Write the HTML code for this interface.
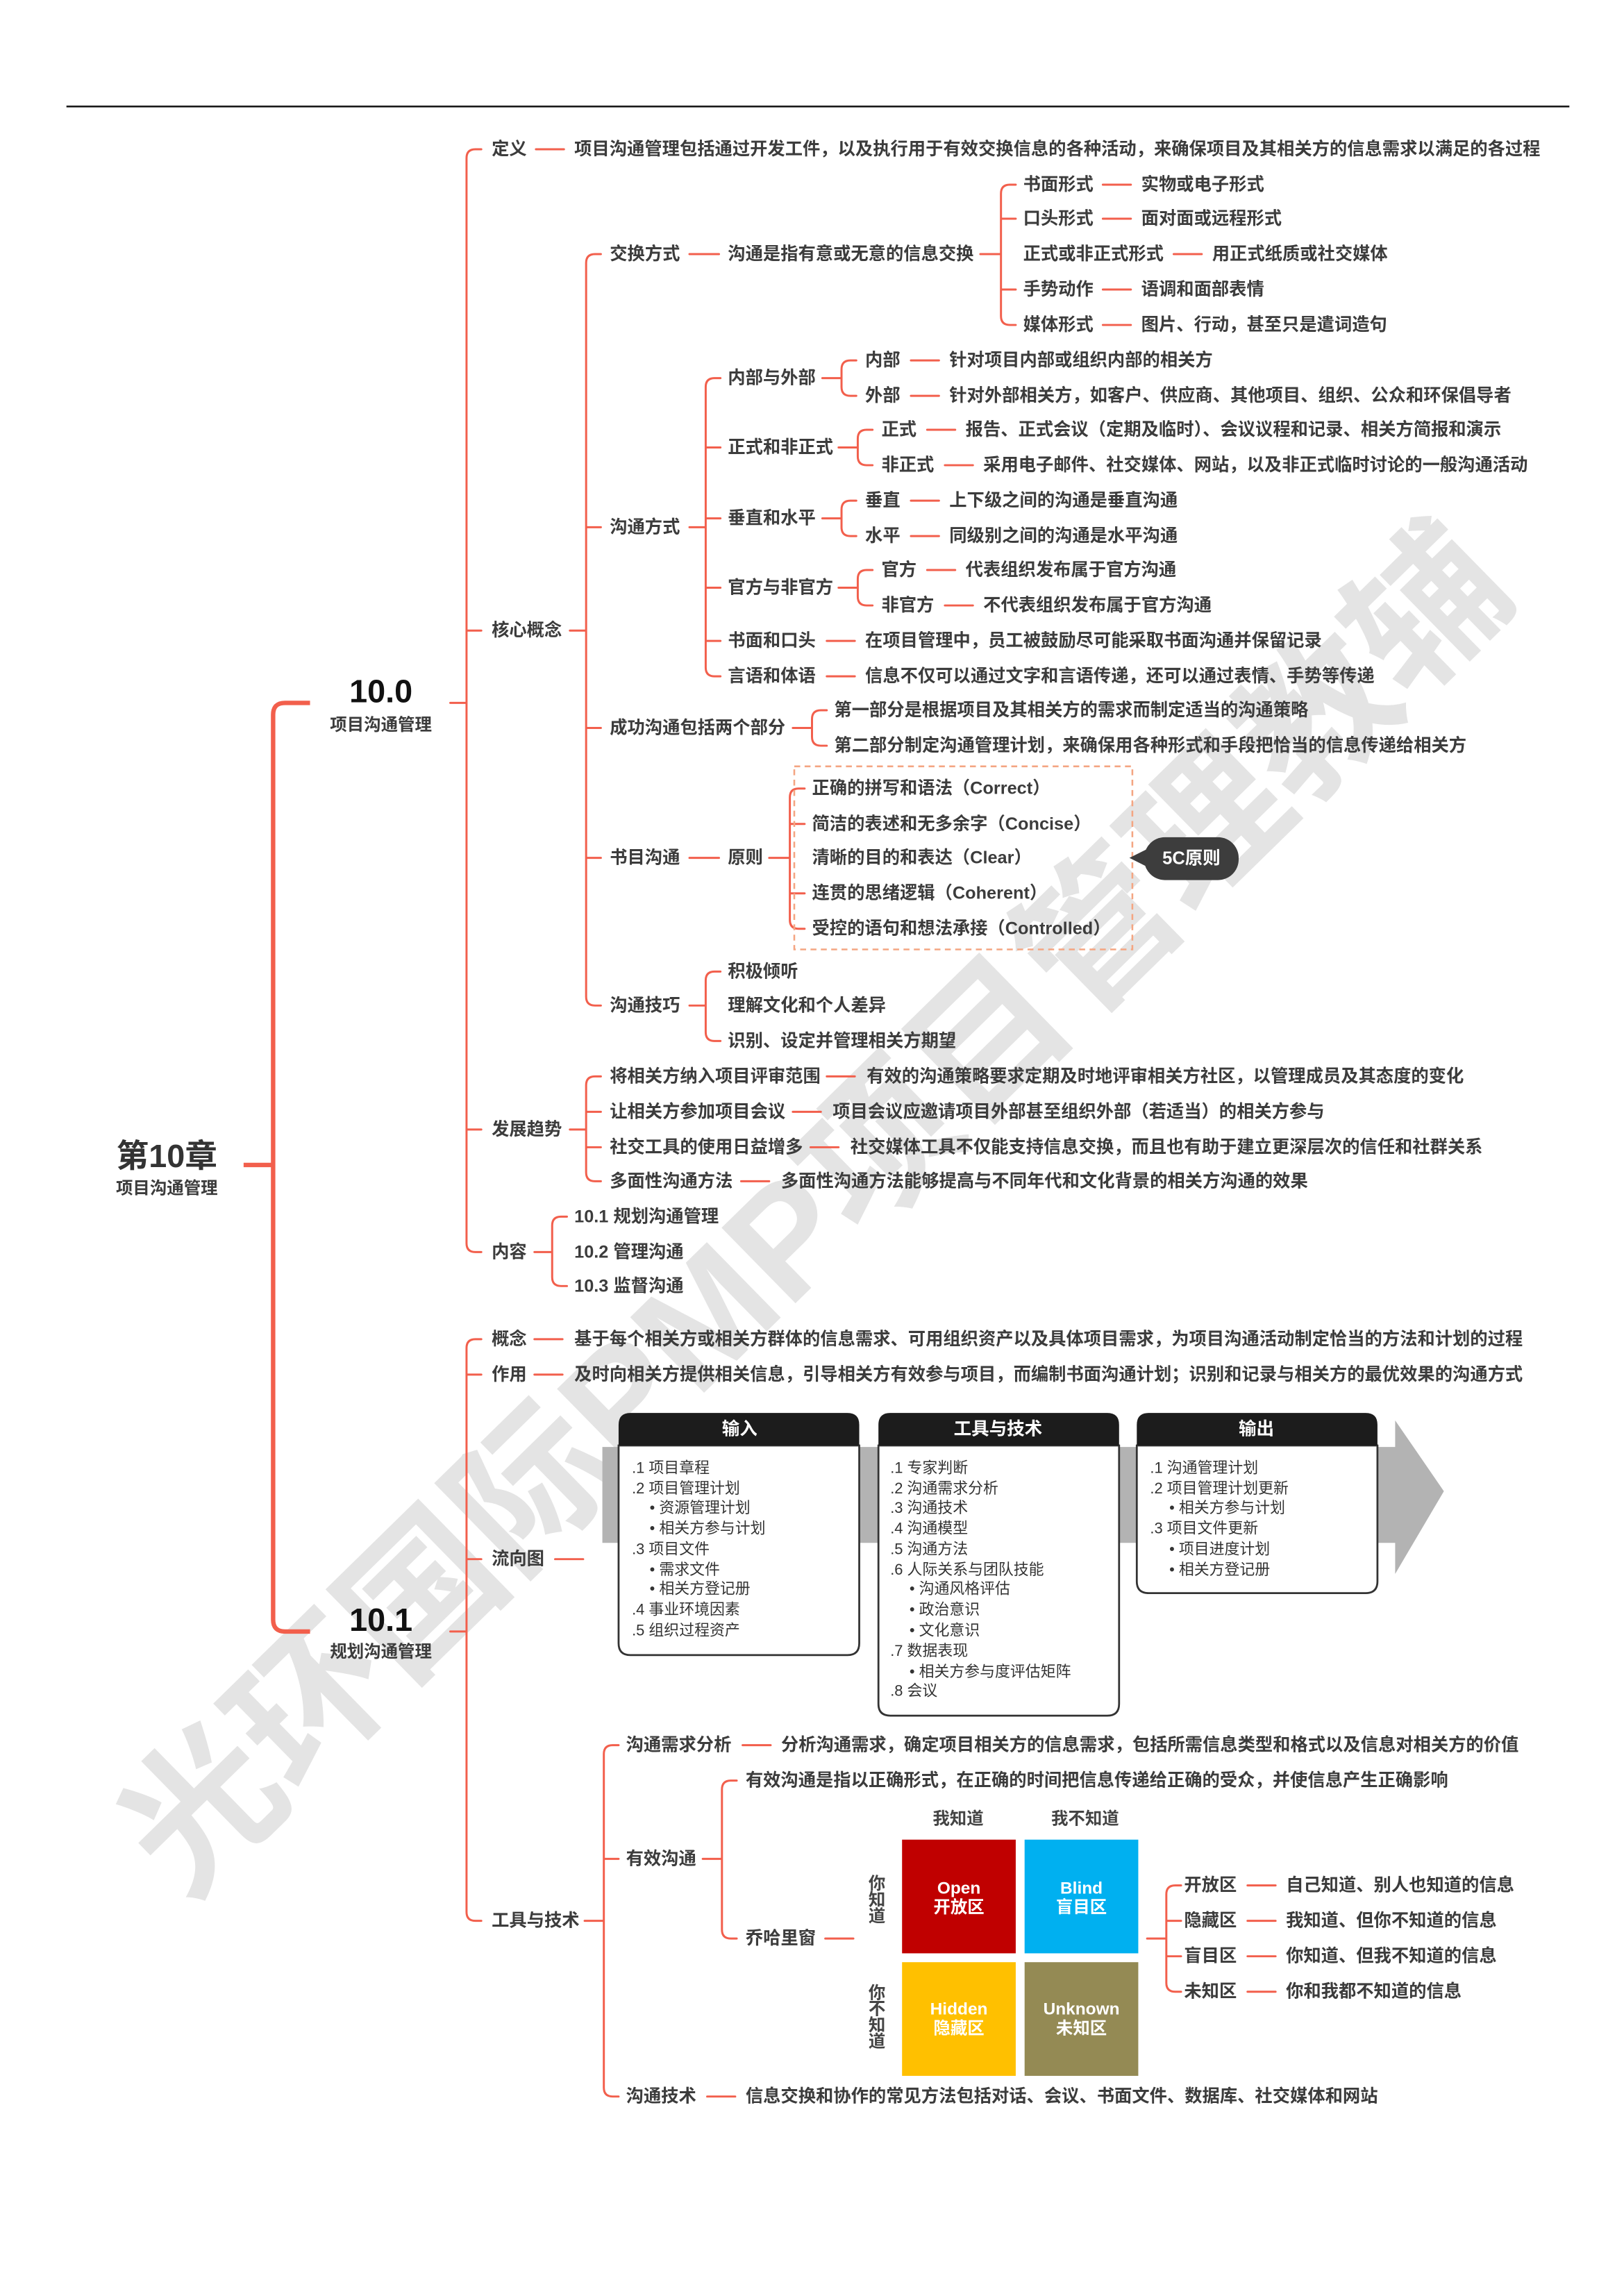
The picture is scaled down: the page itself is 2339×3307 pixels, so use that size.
<!DOCTYPE html>
<html><head><meta charset="utf-8">
<style>
html,body{margin:0;padding:0;background:#fff;}
svg{display:block;}
text{font-family:"Liberation Sans","Noto Sans CJK SC",sans-serif;dominant-baseline:central;}
.t{font-size:11.9px;font-weight:bold;fill:#3c3c3c;}
.s{font-size:10.3px;fill:#333;}
.l{fill:none;stroke:#f25f4c;stroke-width:1.4;stroke-linecap:round;}
</style></head><body>
<svg width="2339" height="3307" viewBox="0 0 1100 1555" xmlns="http://www.w3.org/2000/svg">
<rect width="1100" height="1555" fill="#fff"/>
<text x="100" y="1262" transform="rotate(-44.4 100 1262)" style="font-size:104px;font-weight:bold;fill:#e4e4e4;">光环国际PMP项目管理教辅</text>

<line x1="45" y1="72" x2="1063" y2="72" stroke="#111" stroke-width="1.2"/>

<text x="113" y="783" text-anchor="middle" style="font-size:22px;font-weight:bold;fill:#333">第10章</text>
<text x="113" y="805" text-anchor="middle" class="t" style="font-size:11.5px">项目沟通管理</text>
<path d="M165 789 H185 M210 476 H193 Q185 476 185 484 V1097 Q185 1105 193 1105 H210" fill="none" stroke="#f25f4c" stroke-width="3"/>

<text x="258" y="468" text-anchor="middle" style="font-size:22px;font-weight:bold;fill:#111">10.0</text>
<text x="258" y="491" text-anchor="middle" class="t" style="font-size:11.5px">项目沟通管理</text>
<text x="258" y="1097" text-anchor="middle" style="font-size:22px;font-weight:bold;fill:#111">10.1</text>
<text x="258" y="1119" text-anchor="middle" class="t" style="font-size:11.5px">规划沟通管理</text>

<g class="l">
<path d="M326 101 H322 Q316 101 316 107 V842 Q316 848 322 848 H326 M316 427 H326 M316 765 H326 M305 476 H316"/>
<path d="M363 101 H382"/>
<path d="M386 427 H397 M407 172 H403 Q397 172 397 178 V675 Q397 681 403 681 H407 M397 357 H407 M397 493 H407 M397 581 H407"/>
<path d="M467 172 H487 M664 172 H678 M688 125 H684 Q678 125 678 131 V214 Q678 220 684 220 H688 M678 148 H688 M678 196 H688"/>
<path d="M747 125 H766 M747 148 H766 M795 172 H814 M747 196 H766 M747 220 H766"/>
<path d="M467 357 H478 M488 256 H484 Q478 256 478 262 V452 Q478 458 484 458 H488 M478 303 H488 M478 351 H488 M478 398 H488 M478 434 H488"/>
<path d="M557 256 H570 M580 244 H576 Q570 244 570 250 V262 Q570 268 576 268 H580"/>
<path d="M568 303 H581 M591 291 H587 Q581 291 581 297 V309 Q581 315 587 315 H591"/>
<path d="M557 351 H570 M580 339 H576 Q570 339 570 345 V357 Q570 363 576 363 H580"/>
<path d="M568 398 H581 M591 386 H587 Q581 386 581 392 V404 Q581 410 587 410 H591"/>
<path d="M617 244 H636 M617 268 H636 M628 291 H647 M640 315 H659 M617 339 H636 M617 363 H636 M628 386 H647 M640 410 H659 M560 434 H579 M560 458 H579"/>
<path d="M537 493 H550 M560 481 H556 Q550 481 550 487 V499 Q550 505 556 505 H560"/>
<path d="M467 581 H487 M521 581 H535 M545 534 H541 Q535 534 535 540 V623 Q535 629 541 629 H545 M535 558 H545 M535 605 H545"/>
<path d="M467 681 H478 M488 658 H484 Q478 658 478 664 V699 Q478 705 484 705 H488"/>
<path d="M386 765 H397 M407 729 H403 Q397 729 397 735 V794 Q397 800 403 800 H407 M397 753 H407 M397 777 H407"/>
<path d="M560 729 H579 M537 753 H556 M549 777 H568 M502 800 H521"/>
<path d="M362 848 H374 M384 824 H380 Q374 824 374 830 V865 Q374 871 380 871 H384"/>
<path d="M326 907 H322 Q316 907 316 913 V1295 Q316 1301 322 1301 H326 M316 931 H326 M316 1056 H326 M305 1105 H316"/>
<path d="M362 907 H381 M362 931 H381 M376 1056 H395"/>
<path d="M396 1301 H409 M419 1182 H415 Q409 1182 409 1188 V1414 Q409 1420 415 1420 H419 M409 1259 H419"/>
<path d="M503 1182 H522 M479 1420 H498"/>
<path d="M476 1259 H489 M499 1206 H495 Q489 1206 489 1212 V1307 Q489 1313 495 1313 H499"/>
<path d="M559 1313 H578"/>
<path d="M777 1313 H790 M800 1277 H796 Q790 1277 790 1283 V1343 Q790 1349 796 1349 H800 M790 1301 H800 M790 1325 H800"/>
<path d="M845 1277 H864 M845 1301 H864 M845 1325 H864 M845 1349 H864"/>
</g>

<g class="t">
<text x="333" y="101">定义</text>
<text x="389" y="101">项目沟通管理包括通过开发工件，以及执行用于有效交换信息的各种活动，来确保项目及其相关方的信息需求以满足的各过程</text>
<text x="333" y="427">核心概念</text>
<text x="413" y="172">交换方式</text>
<text x="493" y="172">沟通是指有意或无意的信息交换</text>
<text x="693" y="125">书面形式</text><text x="773" y="125">实物或电子形式</text>
<text x="693" y="148">口头形式</text><text x="773" y="148">面对面或远程形式</text>
<text x="693" y="172">正式或非正式形式</text><text x="821" y="172">用正式纸质或社交媒体</text>
<text x="693" y="196">手势动作</text><text x="773" y="196">语调和面部表情</text>
<text x="693" y="220">媒体形式</text><text x="773" y="220">图片、行动，甚至只是遣词造句</text>
<text x="413" y="357">沟通方式</text>
<text x="493" y="256">内部与外部</text>
<text x="586" y="244">内部</text><text x="643" y="244">针对项目内部或组织内部的相关方</text>
<text x="586" y="268">外部</text><text x="643" y="268">针对外部相关方，如客户、供应商、其他项目、组织、公众和环保倡导者</text>
<text x="493" y="303">正式和非正式</text>
<text x="597" y="291">正式</text><text x="654" y="291">报告、正式会议（定期及临时）、会议议程和记录、相关方简报和演示</text>
<text x="597" y="315">非正式</text><text x="666" y="315">采用电子邮件、社交媒体、网站，以及非正式临时讨论的一般沟通活动</text>
<text x="493" y="351">垂直和水平</text>
<text x="586" y="339">垂直</text><text x="643" y="339">上下级之间的沟通是垂直沟通</text>
<text x="586" y="363">水平</text><text x="643" y="363">同级别之间的沟通是水平沟通</text>
<text x="493" y="398">官方与非官方</text>
<text x="597" y="386">官方</text><text x="654" y="386">代表组织发布属于官方沟通</text>
<text x="597" y="410">非官方</text><text x="666" y="410">不代表组织发布属于官方沟通</text>
<text x="493" y="434">书面和口头</text><text x="586" y="434">在项目管理中，员工被鼓励尽可能采取书面沟通并保留记录</text>
<text x="493" y="458">言语和体语</text><text x="586" y="458">信息不仅可以通过文字和言语传递，还可以通过表情、手势等传递</text>
<text x="413" y="493">成功沟通包括两个部分</text>
<text x="565" y="481">第一部分是根据项目及其相关方的需求而制定适当的沟通策略</text>
<text x="565" y="505">第二部分制定沟通管理计划，来确保用各种形式和手段把恰当的信息传递给相关方</text>
<text x="413" y="581">书目沟通</text>
<text x="493" y="581">原则</text>
<text x="550" y="534">正确的拼写和语法（Correct）</text>
<text x="550" y="558">简洁的表述和无多余字（Concise）</text>
<text x="550" y="581">清晰的目的和表达（Clear）</text>
<text x="550" y="605">连贯的思绪逻辑（Coherent）</text>
<text x="550" y="629">受控的语句和想法承接（Controlled）</text>
<text x="413" y="681">沟通技巧</text>
<text x="493" y="658">积极倾听</text>
<text x="493" y="681">理解文化和个人差异</text>
<text x="493" y="705">识别、设定并管理相关方期望</text>
<text x="333" y="765">发展趋势</text>
<text x="413" y="729">将相关方纳入项目评审范围</text><text x="587" y="729">有效的沟通策略要求定期及时地评审相关方社区，以管理成员及其态度的变化</text>
<text x="413" y="753">让相关方参加项目会议</text><text x="564" y="753">项目会议应邀请项目外部甚至组织外部（若适当）的相关方参与</text>
<text x="413" y="777">社交工具的使用日益增多</text><text x="576" y="777">社交媒体工具不仅能支持信息交换，而且也有助于建立更深层次的信任和社群关系</text>
<text x="413" y="800">多面性沟通方法</text><text x="529" y="800">多面性沟通方法能够提高与不同年代和文化背景的相关方沟通的效果</text>
<text x="333" y="848">内容</text>
<text x="389" y="824">10.1 规划沟通管理</text>
<text x="389" y="848">10.2 管理沟通</text>
<text x="389" y="871">10.3 监督沟通</text>
<text x="333" y="907">概念</text>
<text x="389" y="907">基于每个相关方或相关方群体的信息需求、可用组织资产以及具体项目需求，为项目沟通活动制定恰当的方法和计划的过程</text>
<text x="333" y="931">作用</text>
<text x="389" y="931">及时向相关方提供相关信息，引导相关方有效参与项目，而编制书面沟通计划；识别和记录与相关方的最优效果的沟通方式</text>
<text x="333" y="1056">流向图</text>
<text x="333" y="1301">工具与技术</text>
<text x="424" y="1182">沟通需求分析</text><text x="529" y="1182">分析沟通需求，确定项目相关方的信息需求，包括所需信息类型和格式以及信息对相关方的价值</text>
<text x="424" y="1259">有效沟通</text>
<text x="505" y="1206">有效沟通是指以正确形式，在正确的时间把信息传递给正确的受众，并使信息产生正确影响</text>
<text x="505" y="1313">乔哈里窗</text>
<text x="802" y="1277">开放区</text><text x="871" y="1277">自己知道、别人也知道的信息</text>
<text x="802" y="1301">隐藏区</text><text x="871" y="1301">我知道、但你不知道的信息</text>
<text x="802" y="1325">盲目区</text><text x="871" y="1325">你知道、但我不知道的信息</text>
<text x="802" y="1349">未知区</text><text x="871" y="1349">你和我都不知道的信息</text>
<text x="424" y="1420">沟通技术</text><text x="505" y="1420">信息交换和协作的常见方法包括对话、会议、书面文件、数据库、社交媒体和网站</text>
</g>

<rect x="538" y="519" width="229" height="124" fill="none" stroke="#f4a582" stroke-width="1.2" stroke-dasharray="4 3"/>
<path d="M765 581 L779 574 L779 588 Z" fill="#3d3d3d"/>
<rect x="775" y="567" width="64" height="29" rx="14" fill="#3d3d3d"/>
<text x="807" y="581.5" text-anchor="middle" style="font-size:12px;font-weight:bold;fill:#fff">5C原则</text>

<polygon points="408,980 945,980 945,962 978,1010 945,1066 945,1045 408,1045" fill="#b3b3b3"/>
<g stroke="#333" stroke-width="1.3">
<path d="M419 979 V1113 Q419 1121 427 1121 H574 Q582 1121 582 1113 V979 Z" fill="#fff"/>
<path d="M595 979 V1154 Q595 1162 603 1162 H750 Q758 1162 758 1154 V979 Z" fill="#fff"/>
<path d="M770 979 V1071 Q770 1079 778 1079 H925 Q933 1079 933 1071 V979 Z" fill="#fff"/>
</g>
<path d="M419 979 V965 Q419 957 427 957 H574 Q582 957 582 965 V979 Z" fill="#1c1c1c"/>
<path d="M595 979 V965 Q595 957 603 957 H750 Q758 957 758 965 V979 Z" fill="#1c1c1c"/>
<path d="M770 979 V965 Q770 957 778 957 H925 Q933 957 933 965 V979 Z" fill="#1c1c1c"/>
<g style="font-size:12px;font-weight:bold;fill:#fff" text-anchor="middle">
<text x="501" y="968">输入</text><text x="676" y="968">工具与技术</text><text x="851" y="968">输出</text>
</g>
<g class="s">
<text x="428" y="994">.1 项目章程</text>
<text x="428" y="1008">.2 项目管理计划</text>
<text x="440" y="1021">• 资源管理计划</text>
<text x="440" y="1035">• 相关方参与计划</text>
<text x="428" y="1049">.3 项目文件</text>
<text x="440" y="1063">• 需求文件</text>
<text x="440" y="1076">• 相关方登记册</text>
<text x="428" y="1090">.4 事业环境因素</text>
<text x="428" y="1104">.5 组织过程资产</text>
<text x="603" y="994">.1 专家判断</text>
<text x="603" y="1008">.2 沟通需求分析</text>
<text x="603" y="1021">.3 沟通技术</text>
<text x="603" y="1035">.4 沟通模型</text>
<text x="603" y="1049">.5 沟通方法</text>
<text x="603" y="1063">.6 人际关系与团队技能</text>
<text x="616" y="1076">• 沟通风格评估</text>
<text x="616" y="1090">• 政治意识</text>
<text x="616" y="1104">• 文化意识</text>
<text x="603" y="1118">.7 数据表现</text>
<text x="616" y="1132">• 相关方参与度评估矩阵</text>
<text x="603" y="1145">.8 会议</text>
<text x="779" y="994">.1 沟通管理计划</text>
<text x="779" y="1008">.2 项目管理计划更新</text>
<text x="792" y="1021">• 相关方参与计划</text>
<text x="779" y="1035">.3 项目文件更新</text>
<text x="792" y="1049">• 项目进度计划</text>
<text x="792" y="1063">• 相关方登记册</text>
</g>

<rect x="611" y="1246" width="77" height="77" fill="#c00000"/>
<rect x="694" y="1246" width="77" height="77" fill="#00b0f0"/>
<rect x="611" y="1329" width="77" height="77" fill="#ffc000"/>
<rect x="694" y="1329" width="77" height="77" fill="#948a54"/>
<g style="font-size:11.5px;font-weight:bold;fill:#fff" text-anchor="middle">
<text x="649.5" y="1279">Open</text><text x="649.5" y="1292">开放区</text>
<text x="732.5" y="1279">Blind</text><text x="732.5" y="1292">盲目区</text>
<text x="649.5" y="1361">Hidden</text><text x="649.5" y="1374">隐藏区</text>
<text x="732.5" y="1361">Unknown</text><text x="732.5" y="1374">未知区</text>
</g>
<g style="font-size:11.5px;font-weight:bold;fill:#444" text-anchor="middle">
<text x="649" y="1232">我知道</text><text x="735" y="1232">我不知道</text>
<text x="594" y="1276">你</text><text x="594" y="1287">知</text><text x="594" y="1298">道</text>
<text x="594" y="1350">你</text><text x="594" y="1361">不</text><text x="594" y="1372">知</text><text x="594" y="1383">道</text>
</g>
</svg>
</body></html>
